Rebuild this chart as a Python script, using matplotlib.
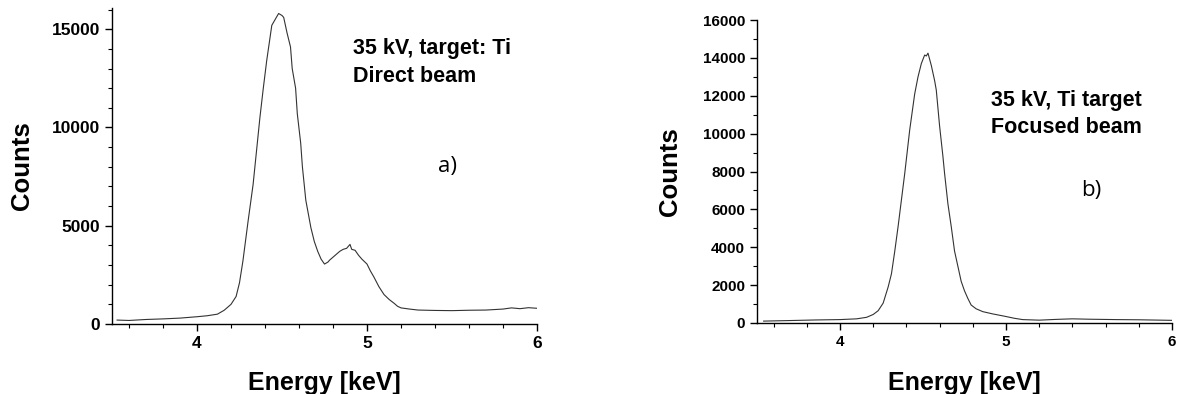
import matplotlib
matplotlib.use("Agg")
import matplotlib.pyplot as plt
from matplotlib.ticker import MultipleLocator

# Panel a) direct beam
energy_a = [3.53, 3.60, 3.70, 3.80, 3.90, 4.00, 4.06, 4.12, 4.16, 4.20, 4.23, 4.25,
            4.27, 4.30, 4.33, 4.35, 4.37, 4.39, 4.41, 4.43, 4.44, 4.46, 4.48, 4.50,
            4.51, 4.53, 4.55, 4.56, 4.58, 4.59, 4.61, 4.62, 4.64, 4.67, 4.69, 4.71,
            4.73, 4.75, 4.77, 4.78, 4.80, 4.82, 4.84, 4.86, 4.88, 4.90, 4.91, 4.93,
            4.95, 4.97, 5.00, 5.02, 5.04, 5.07, 5.10, 5.13, 5.16, 5.18, 5.20, 5.25,
            5.30, 5.40, 5.50, 5.60, 5.70, 5.80, 5.85, 5.90, 5.95, 6.00]
counts_a = [200, 180, 230, 260, 300, 370, 420, 500, 700, 1000, 1400, 2100,
            3200, 5200, 7100, 8800, 10500, 12000, 13400, 14600, 15200, 15500, 15800, 15700,
            15600, 14800, 14100, 13000, 12000, 10700, 9200, 8000, 6300, 4900, 4200, 3700,
            3300, 3050, 3150, 3250, 3400, 3550, 3700, 3800, 3850, 4050, 3800, 3750,
            3500, 3300, 3050, 2700, 2400, 1900, 1500, 1250, 1050, 900, 820, 760,
            710, 690, 680, 700, 710, 760, 820, 780, 830, 800]

# Panel b) focused beam
energy_b = [3.54, 3.70, 3.85, 4.00, 4.10, 4.16, 4.20, 4.23, 4.26, 4.29, 4.31, 4.33,
            4.35, 4.37, 4.39, 4.42, 4.45, 4.47, 4.49, 4.51, 4.52, 4.53, 4.55, 4.57,
            4.58, 4.60, 4.62, 4.63, 4.65, 4.67, 4.69, 4.71, 4.73, 4.75, 4.77, 4.79,
            4.82, 4.86, 4.92, 4.99, 5.05, 5.10, 5.20, 5.30, 5.40, 5.50, 5.66, 5.80,
            6.00]
counts_b = [100, 130, 160, 180, 220, 300, 450, 650, 1050, 1900, 2600, 3800,
            5100, 6500, 7900, 10200, 12100, 13000, 13700, 14150, 14100, 14250, 13600, 12800,
            12300, 10400, 8800, 7900, 6300, 5100, 3800, 3000, 2200, 1700, 1300, 950,
            750, 600, 480, 360, 250, 180, 150, 190, 220, 200, 180, 170,
            140]

annot_a = "35 kV, target: Ti\nDirect beam"
annot_b = "35 kV, Ti target\nFocused beam"

plt.rcParams["font.family"] = ["Liberation Sans", "DejaVu Sans"]

W, H = 1180, 394
fig = plt.figure(figsize=(W / 100, H / 100), dpi=100)
ax1 = fig.add_axes([112 / W, (H - 324) / H, 425 / W, 316 / H])
ax2 = fig.add_axes([757 / W, (H - 323) / H, 415 / W, 303 / H])


def style(ax, ymax, ymajor, tsize):
    ax.set_xlim(3.5, 6.0)
    ax.set_ylim(0, ymax)
    ax.xaxis.set_major_locator(MultipleLocator(1))
    ax.xaxis.set_minor_locator(MultipleLocator(0.2))
    ax.yaxis.set_major_locator(MultipleLocator(ymajor))
    ax.yaxis.set_minor_locator(MultipleLocator(1000))
    for s in ("top", "right"):
        ax.spines[s].set_visible(False)
    for s in ("left", "bottom"):
        ax.spines[s].set_linewidth(1.0)
    ax.tick_params(which="major", direction="out", length=5, width=1.0, labelsize=tsize)
    ax.tick_params(which="minor", direction="out", length=3, width=0.8)
    for lab in ax.get_xticklabels() + ax.get_yticklabels():
        lab.set_fontweight("bold")
    ax.set_xlabel("Energy [keV]", fontsize=18, fontweight="bold")
    ax.set_ylabel("Counts", fontsize=18.5, fontweight="bold")
    ax.xaxis.label.set_va("center")
    ax.yaxis.label.set_va("center")


ax1.plot(energy_a, counts_a, color="#333333", lw=0.8)
style(ax1, 16080, 5000, 12.5)
ax1.xaxis.set_label_coords(0.5, -0.187)
ax1.yaxis.set_label_coords(-0.212, 0.5)
ax1.text(4.92, 14550, annot_a, fontsize=15.5, fontweight="bold", va="top", linespacing=1.45)
ax1.text(5.42, 8000, "a)", fontsize=16, family=["Open Sans", "DejaVu Sans"], va="center")

ax2.plot(energy_b, counts_b, color="#333333", lw=0.8)
style(ax2, 16000, 2000, 11)
ax2.xaxis.set_label_coords(0.5, -0.198)
ax2.yaxis.set_label_coords(-0.21, 0.5)
ax2.text(4.91, 12300, annot_b, fontsize=15.5, fontweight="bold", va="top", linespacing=1.4)
ax2.text(5.45, 7000, "b)", fontsize=16, family=["Open Sans", "DejaVu Sans"], va="center")

fig.savefig("out.png", dpi=100)
